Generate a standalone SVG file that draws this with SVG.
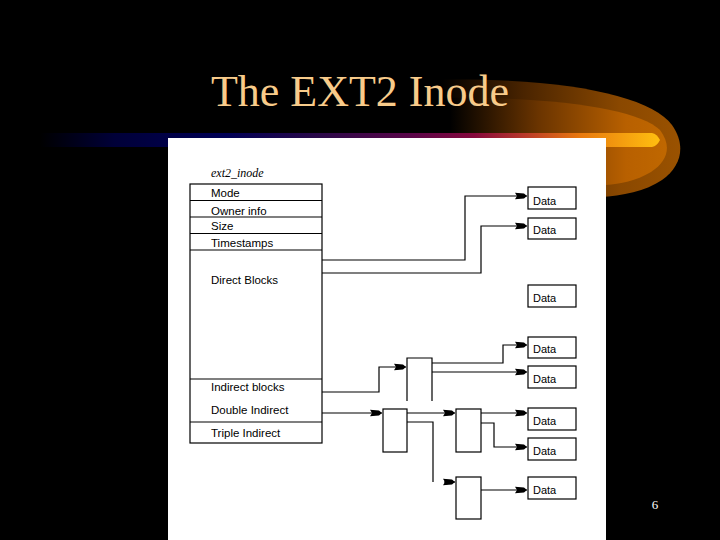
<svg xmlns="http://www.w3.org/2000/svg" width="720" height="540" viewBox="0 0 720 540">
<style>
.box{fill:#fff;stroke:#000;stroke-width:1.2}
.lbl{font-family:"Liberation Sans",Arial,sans-serif;font-size:11.5px;fill:#000}
.dt{font-family:"Liberation Sans",Arial,sans-serif;font-size:11px;fill:#000}
.con{fill:none;stroke:#000;stroke-width:1.2}
.arr{marker-end:url(#ah)}
</style>
<defs>
<marker id="ah" viewBox="0 -4 12 8" refX="12" refY="0" markerWidth="12" markerHeight="8" markerUnits="userSpaceOnUse" orient="auto">
<path d="M0,-3.2 L9,-2.4 L12,0 L9,2.4 L0,3.2 L2,0 Z" fill="#000"/>
</marker>
<linearGradient id="bar" gradientUnits="userSpaceOnUse" x1="40" y1="0" x2="660" y2="0">
<stop offset="0" stop-color="#000000"/>
<stop offset="0.12" stop-color="#000038"/>
<stop offset="0.3" stop-color="#000055"/>
<stop offset="0.45" stop-color="#2a0848"/>
<stop offset="0.6" stop-color="#5a0548"/>
<stop offset="0.7" stop-color="#85083c"/>
<stop offset="0.78" stop-color="#b8382a"/>
<stop offset="0.87" stop-color="#e8780e"/>
<stop offset="1" stop-color="#ffbf10"/>
</linearGradient>
<linearGradient id="sw1" gradientUnits="userSpaceOnUse" x1="440" y1="0" x2="680" y2="0">
<stop offset="0" stop-color="#000000"/>
<stop offset="0.35" stop-color="#4a2400"/>
<stop offset="0.75" stop-color="#8a4800"/>
<stop offset="1" stop-color="#9a5200"/>
</linearGradient>
<linearGradient id="sw2" gradientUnits="userSpaceOnUse" x1="450" y1="0" x2="670" y2="0">
<stop offset="0" stop-color="#000000"/>
<stop offset="0.4" stop-color="#6a3400"/>
<stop offset="0.8" stop-color="#b86000"/>
<stop offset="1" stop-color="#c06800"/>
</linearGradient>
</defs>
<rect x="0" y="0" width="720" height="540" fill="#000"/>
<path d="M420,80 C560,76 650,95 672,125 C686,145 682,166 662,180 C646,191 622,196 600,197 L420,197 Z" fill="url(#sw1)"/>
<path d="M440,98 C560,96 640,110 660,130 C672,146 668,161 651,172 C636,181 620,184 606,185 L440,185 Z" fill="url(#sw2)"/>
<path d="M40,133 L652,133 Q657,134 660,140 Q657,146 652,147 L40,147 Z" fill="url(#bar)"/>
<text x="360" y="106" text-anchor="middle" font-family="'Liberation Serif','Times New Roman',serif" font-size="44" fill="#F8CB8A">The EXT2 Inode</text>
<rect x="168" y="138" width="438" height="402" fill="#fff"/>
<text x="655" y="509" text-anchor="middle" font-family="'Liberation Serif','Times New Roman',serif" font-size="13" fill="#fff">6</text>
<text x="211" y="177" font-family="'Liberation Serif','Times New Roman',serif" font-style="italic" font-size="12" fill="#000">ext2_inode</text>
<g id="inode">
<rect class="box" x="190" y="184" width="132" height="259"/>
<path class="con" d="M190,200.5 H322 M190,217 H322 M190,233.5 H322 M190,250 H322 M190,379 H322 M190,422 H322"/>
<text class="lbl" x="211" y="197">Mode</text>
<text class="lbl" x="211" y="215">Owner info</text>
<text class="lbl" x="211" y="230">Size</text>
<text class="lbl" x="211" y="247">Timestamps</text>
<text class="lbl" x="211" y="284">Direct Blocks</text>
<text class="lbl" x="211" y="391">Indirect blocks</text>
<text class="lbl" x="211" y="414">Double Indirect</text>
<text class="lbl" x="211" y="437">Triple Indirect</text>
</g>
<g id="ind1"><path class="con" d="M407,401 V358 H432 V401"/></g>
<g id="dbl1"><rect class="box" x="383" y="409" width="24" height="43"/></g>
<g id="dbl2"><rect class="box" x="456" y="409" width="25" height="43"/></g>
<g id="tri1"><rect class="box" x="456" y="477" width="25" height="42"/></g>
<g id="data1"><rect class="box" x="528" y="187" width="48" height="22"/><text class="dt" x="533" y="205">Data</text></g>
<g id="data2"><rect class="box" x="528" y="218" width="48" height="21"/><text class="dt" x="533" y="234">Data</text></g>
<g id="data3"><rect class="box" x="528" y="285" width="48" height="22"/><text class="dt" x="533" y="302">Data</text></g>
<g id="data4"><rect class="box" x="528" y="337" width="48" height="21"/><text class="dt" x="533" y="353">Data</text></g>
<g id="data5"><rect class="box" x="528" y="366" width="48" height="22"/><text class="dt" x="533" y="383">Data</text></g>
<g id="data6"><rect class="box" x="528" y="408" width="48" height="22"/><text class="dt" x="533" y="425">Data</text></g>
<g id="data7"><rect class="box" x="528" y="438" width="48" height="22"/><text class="dt" x="533" y="455">Data</text></g>
<g id="data8"><rect class="box" x="528" y="477" width="48" height="22"/><text class="dt" x="533" y="494">Data</text></g>
<g id="connectors">
<path class="con arr" d="M322,260 H465 V196 H527"/>
<path class="con arr" d="M322,273 H481 V226 H527"/>
<path class="con arr" d="M322,392 H379 V367 H406"/>
<path class="con arr" d="M432,363 H503 V345 H527"/>
<path class="con arr" d="M432,372 H527"/>
<path class="con arr" d="M322,413 H382"/>
<path class="con arr" d="M407,413 H455"/>
<path class="con" d="M407,422 H433 V482"/>
<path class="con arr" d="M444,482 H455"/>
<path class="con arr" d="M481,413 H527"/>
<path class="con arr" d="M481,423 H494 V447 H527"/>
<path class="con arr" d="M481,490 H527"/>
</g>
</svg>
